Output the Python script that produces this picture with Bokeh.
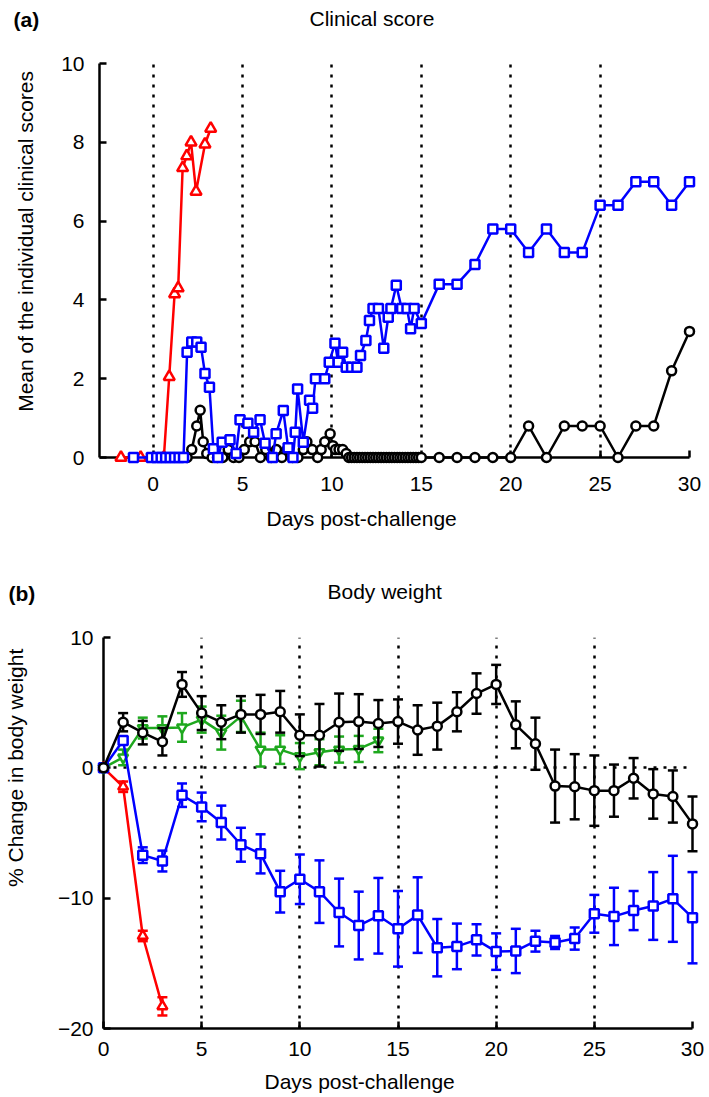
import math
from bokeh.plotting import figure
from bokeh.models import Range1d, FixedTicker, Label, ColumnDataSource
from bokeh.layouts import column, row
from bokeh.embed import file_html
from bokeh.resources import INLINE

FONT = "Liberation Sans"
FS = "21px"
RED = "#ff0000"
BLUE = "#0000ff"
GREEN = "#1ea81e"
BLACK = "#000000"

# ---------------- Panel (a): Clinical score ----------------
a_red_x = [-1.8, -0.7, 0.6, 0.9, 1.2, 1.4, 1.65, 1.88, 2.12, 2.4, 2.9, 3.22]
a_red_y = [0, 0, 0, 2.05, 4.15, 4.3, 7.35, 7.65, 8.0, 6.75, 7.95, 8.35]

a_blue_x = [-1.1, -0.1, 0.2, 0.45, 0.7, 0.95, 1.2, 1.45, 1.7,
            1.9, 2.16, 2.44, 2.68, 2.9, 3.15, 3.37, 3.62, 3.86,
            4.3, 4.64, 4.86, 5.3, 5.62, 5.98, 6.26, 6.68, 6.88,
            7.28, 7.55, 7.82, 7.95, 8.08, 8.4, 8.75, 8.92, 9.08,
            9.6, 9.85, 10.17, 10.35, 10.6, 10.8, 11.1, 11.4, 11.6,
            11.9, 12.1, 12.3, 12.6, 12.9, 13.15, 13.3, 13.6, 13.9,
            14.2, 14.4, 14.6, 15, 16, 17, 18, 19, 20,
            21, 22, 23, 24, 25, 26, 27, 28, 29, 30]
a_blue_y = [0, 0, 0, 0, 0, 0, 0, 0, 0,
            2.67, 2.93, 2.93, 2.8, 2.13, 1.78, 0.22, 0, 0.39,
            0.45, 0.1, 0.96, 0.87, 0.64, 0.96, 0.36, 0, 0.6,
            1.19, 0.25, 0, 0.64, 1.74, 0.39, 1.45, 1.25, 2.0,
            2.0, 2.42, 2.9, 2.42, 2.67, 2.29, 2.29, 2.29, 2.59,
            2.97, 3.48, 3.78, 3.78, 2.77, 3.56, 3.78, 4.37, 3.78,
            3.78, 3.27, 3.78, 3.4, 4.4, 4.4, 4.9, 5.8, 5.8,
            5.2, 5.8, 5.2, 5.2, 6.4, 6.4, 7.0, 7.0, 6.4, 7.0]

a_black_x = [1.9, 2.16, 2.44, 2.63, 2.8, 3.0, 3.3, 3.6, 3.9, 4.2,
             4.5, 4.8, 5.1, 5.4, 5.7, 6.0, 6.3, 6.6, 6.9, 7.2,
             7.5, 7.8, 8.1, 8.4, 8.6, 8.9, 9.2, 9.4, 9.6, 9.9,
             10.05, 10.2, 10.4, 10.6, 10.8,
             10.95, 11.1, 11.25, 11.4, 11.55, 11.7, 11.85, 12.0, 12.15, 12.3,
             12.45, 12.6, 12.75, 12.9, 13.05, 13.2, 13.35, 13.5, 13.65, 13.8,
             13.95, 14.1, 14.25, 14.4, 14.55, 14.7, 14.85, 15.0,
             16, 17, 18, 19, 20, 21, 22, 23, 24, 25, 26, 27, 28, 29, 30]
a_black_y = [0, 0.2, 0.8, 1.2, 0.4, 0.1, 0, 0, 0, 0.2,
             0, 0, 0.2, 0.4, 0.4, 0, 0.2, 0, 0.2, 0,
             0.2, 0, 0, 0.2, 0.4, 0.2, 0, 0.2, 0.4, 0.6,
             0.3, 0.2, 0.2, 0.2, 0.1,
             0, 0, 0, 0, 0, 0, 0, 0, 0, 0,
             0, 0, 0, 0, 0, 0, 0, 0, 0, 0,
             0, 0, 0, 0, 0, 0, 0, 0,
             0, 0, 0, 0, 0, 0.8, 0, 0.8, 0.8, 0.8, 0, 0.8, 0.8, 2.2, 3.2]

a_xticks = [0, 5, 10, 15, 20, 25, 30]
a_yticks = [0, 2, 4, 6, 8, 10]

# ---------------- Panel (b): Body weight ----------------
b_days = [0, 1, 2, 3, 4, 5, 6, 7, 8, 9, 10, 11, 12, 13, 14, 15,
          16, 17, 18, 19, 20, 21, 22, 23, 24, 25, 26, 27, 28, 29, 30]

b_black_y = [0, 3.5, 2.7, 2.0, 6.4, 4.2, 3.5, 4.1, 4.1, 4.3, 2.5, 2.5, 3.5, 3.55, 3.4, 3.55,
             2.9, 3.2, 4.3, 5.7, 6.4, 3.3, 1.85, -1.4, -1.45, -1.75, -1.75, -0.8, -2.0, -2.2, -4.3]
b_black_e = [0, 0.7, 0.9, 1.05, 0.95, 1.3, 1.3, 1.4, 1.5, 1.6, 1.6, 2.4, 2.2, 2.1, 1.8, 1.7,
             1.9, 1.8, 1.5, 1.55, 1.5, 1.8, 2.0, 2.8, 2.5, 2.7, 2.0, 1.55, 1.9, 2.0, 2.1]

b_green_days = [0, 1, 2, 3, 4, 5, 6, 7, 8, 9, 10, 11, 12, 13, 14]
b_green_y = [0, 0.8, 3.05, 3.05, 3.1, 3.7, 2.7, 3.95, 1.4, 1.4, 0.9, 1.2, 1.4, 1.45, 2.1]
b_green_e = [0, 0.6, 0.8, 0.9, 1.1, 1.0, 1.3, 1.2, 1.3, 1.1, 1.0, 1.0, 1.0, 1.0, 0.9]

b_red_days = [0, 1, 2, 3]
b_red_y = [0, -1.45, -12.9, -18.3]
b_red_e = [0, 0.4, 0.4, 0.7]

b_blue_y = [0, 2.1, -6.7, -7.15, -2.1, -3.0, -4.2, -5.9, -6.6, -9.5, -8.55, -9.5, -11.1, -12.1, -11.35, -12.35,
            -11.3, -13.8, -13.7, -13.2, -14.1, -14.05, -13.3, -13.4, -13.1, -11.2, -11.4, -10.95, -10.6, -10.05, -11.5]
b_blue_e = [0, 0.3, 0.6, 0.8, 0.9, 1.1, 1.3, 1.3, 1.5, 1.6, 1.9, 2.4, 2.6, 2.6, 2.9, 2.9,
            2.9, 2.2, 1.75, 1.2, 1.4, 1.7, 0.8, 0.5, 0.85, 1.45, 2.2, 1.5, 2.6, 3.3, 3.5]

b_xticks = [0, 5, 10, 15, 20, 25, 30]
b_yticks = [-20, -10, 0, 10]
b_ylabels = {-20: "\u221220", -10: "\u221210", 0: "0", 10: "10"}

LW = 2.5
W = 709
YLW = 36


def style_axes(p, xticks, yticks, xstand, ystand):
    for ax in (p.xaxis[0], p.yaxis[0]):
        ax.axis_line_width = 2.5
        ax.axis_line_color = BLACK
        ax.major_tick_line_width = 2.5
        ax.major_tick_line_color = BLACK
        ax.major_tick_in = 7
        ax.major_tick_out = 0
        ax.minor_tick_line_color = None
        ax.major_label_text_font = FONT
        ax.major_label_text_font_size = FS
        ax.major_label_text_color = BLACK
    p.xaxis[0].ticker = FixedTicker(ticks=xticks)
    p.yaxis[0].ticker = FixedTicker(ticks=yticks)
    p.xaxis[0].major_label_standoff = xstand
    p.yaxis[0].major_label_standoff = ystand
    p.outline_line_color = None


def series(p, x, y, color, marker, size):
    r1 = p.line(x, y, line_color=color, line_width=LW)
    r2 = p.scatter(x, y, marker=marker, size=size, line_color=color,
                   fill_color="white", line_width=LW)
    r1.level = "annotation"
    r2.level = "annotation"


def errbars(p, x, y, e, color):
    src = ColumnDataSource(dict(x=x, lo=[a - b for a, b in zip(y, e)],
                                hi=[a + b for a, b in zip(y, e)]))
    rs = [p.segment(x0="x", y0="lo", x1="x", y1="hi", source=src,
                    line_color=color, line_width=LW),
          p.scatter(x="x", y="hi", marker="dash", size=10, source=src,
                    line_color=color, line_width=LW),
          p.scatter(x="x", y="lo", marker="dash", size=10, source=src,
                    line_color=color, line_width=LW)]
    for r in rs:
        r.level = "annotation"


def textfig(w, h):
    f = figure(width=w, height=h, x_range=Range1d(0, w), y_range=Range1d(0, h),
               output_backend="svg", toolbar_location=None, min_border=0,
               x_axis_location=None, y_axis_location=None)
    f.grid.visible = False
    f.outline_line_color = None
    return f


def text(f, x, y, s, bold=False, align="left", baseline="middle", angle=0.0):
    f.add_layout(Label(x=x, y=y, text=s, text_font=FONT, text_font_size=FS,
                       text_font_style="bold" if bold else "normal",
                       text_color=BLACK, text_align=align, text_baseline=baseline,
                       angle=angle))


# ---------- header (a) ----------
hdr_a = textfig(W, 48)
text(hdr_a, 13, 29, "(a)", bold=True)
text(hdr_a, 309, 30, "Clinical score")

# ---------- figure (a) ----------
H1 = 454
p1 = figure(width=W - YLW, height=H1, x_range=Range1d(-3, 30), y_range=Range1d(0, 10),
            output_backend="svg", toolbar_location=None,
            min_border_left=63, min_border_right=20, min_border_top=15, min_border_bottom=45)
style_axes(p1, a_xticks, a_yticks, 19, 15)
p1.xgrid.ticker = FixedTicker(ticks=a_xticks)
p1.xgrid.grid_line_color = BLACK
p1.xgrid.grid_line_width = 2.5
p1.xgrid.grid_line_dash = "3 7"
p1.ygrid.visible = False

series(p1, a_black_x, a_black_y, BLACK, "circle", 9)
series(p1, a_red_x, a_red_y, RED, "triangle", 11)
series(p1, a_blue_x, a_blue_y, BLUE, "square", 9)

yl_a = textfig(YLW, H1)
text(yl_a, 25, 249, "Mean of the individual clinical scores", align="center",
     baseline="middle", angle=math.pi / 2)

# ---------- middle text band ----------
mid = textfig(W, 120)
text(mid, 266, 104, "Days post-challenge")
text(mid, 8, 29, "(b)", bold=True)
text(mid, 327, 31, "Body weight")

# ---------- figure (b) ----------
H2 = 444
p2 = figure(width=W - YLW, height=H2, x_range=Range1d(0, 30), y_range=Range1d(-20, 10),
            output_backend="svg", toolbar_location=None,
            min_border_left=67, min_border_right=17, min_border_top=15, min_border_bottom=38)
style_axes(p2, b_xticks, b_yticks, 13, 10)
p2.yaxis[0].major_label_overrides = b_ylabels
p2.xgrid.ticker = FixedTicker(ticks=[5, 10, 15, 20, 25, 30])
p2.ygrid.ticker = FixedTicker(ticks=[0])
for g in (p2.xgrid[0], p2.ygrid[0]):
    g.grid_line_color = BLACK
    g.grid_line_width = 2.5
    g.grid_line_dash = "3 7"

errbars(p2, b_green_days, b_green_y, b_green_e, GREEN)
series(p2, b_green_days, b_green_y, GREEN, "inverted_triangle", 10)
errbars(p2, b_red_days, b_red_y, b_red_e, RED)
series(p2, b_red_days, b_red_y, RED, "triangle", 10)
errbars(p2, b_days, b_blue_y, b_blue_e, BLUE)
series(p2, b_days, b_blue_y, BLUE, "square", 9)
errbars(p2, b_days, b_black_y, b_black_e, BLACK)
series(p2, b_days, b_black_y, BLACK, "circle", 9)

yl_b = textfig(YLW, H2)
text(yl_b, 15, 296, "% Change in body weight", align="center",
     baseline="middle", angle=math.pi / 2)

# ---------- footer ----------
foot = textfig(W, 31)
text(foot, 264, 16, "Days post-challenge")

layout = column(hdr_a, row(yl_a, p1), mid, row(yl_b, p2), foot)
open("out.html", "w").write(file_html(layout, INLINE))
